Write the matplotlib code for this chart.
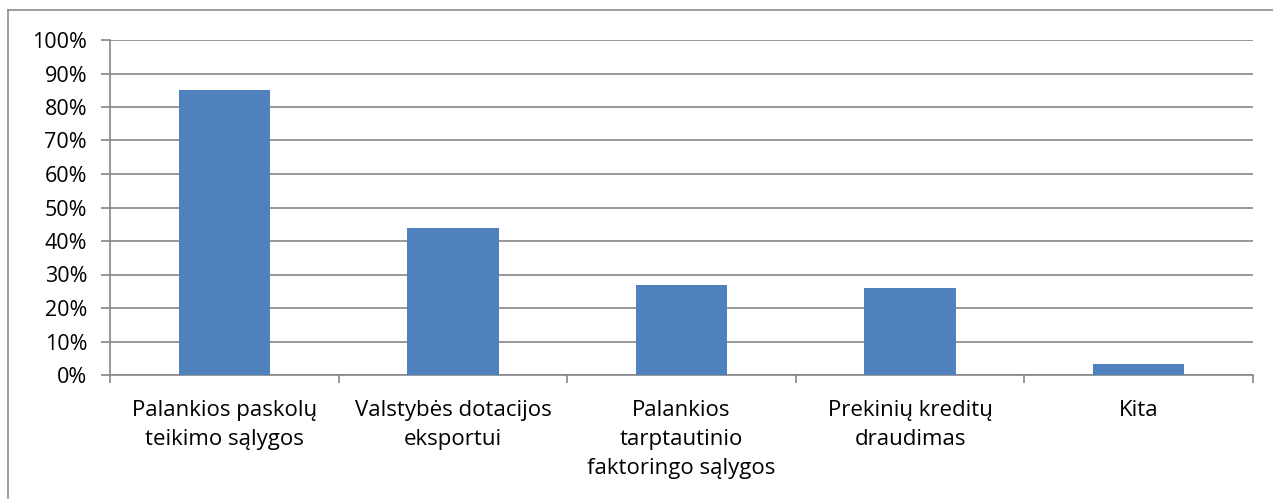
import numpy as np
import matplotlib.pyplot as plt
from matplotlib.lines import Line2D
from matplotlib.ticker import PercentFormatter

# categories and values (share of respondents)
categories = ['Palankios paskolų\nteikimo sąlygos',
              'Valstybės dotacijos\neksportui',
              'Palankios\ntarptautinio\nfaktoringo sąlygos',
              'Prekinių kreditų\ndraudimas',
              'Kita']
values = [0.85, 0.44, 0.27, 0.26, 0.033]
y_ticks = np.arange(0, 1.01, 0.1)

plt.rcParams['font.family'] = ['Open Sans', 'DejaVu Sans']

GRID = '#868686'
BAR = '#4F81BD'

fig = plt.figure(figsize=(12.73, 4.99), dpi=100)
ax = fig.add_axes([110/1273, 1-375/499, (1253-110)/1273, (375-40)/499])

x = np.arange(len(categories))
ax.bar(x, values, width=0.4, color=BAR, zorder=3)

ax.set_xlim(-0.5, len(categories)-0.5)
ax.set_ylim(0, 1)
ax.set_yticks(y_ticks)
ax.yaxis.set_major_formatter(PercentFormatter(1.0, decimals=0))
ax.yaxis.grid(True, color=GRID, lw=1.2, zorder=0)

# category labels centred, ticks on the category boundaries
ax.set_xticks(x)
ax.set_xticklabels(categories, linespacing=1.5, va='top')
ax.set_xticks(np.arange(-0.5, len(categories)), minor=True)
ax.tick_params(axis='x', which='major', length=0, pad=18, labelsize=16)
ax.tick_params(axis='x', which='minor', length=6, width=1.2, color=GRID, direction='out')
ax.tick_params(axis='y', length=6.5, width=1.2, color=GRID, labelsize=15.5, pad=10)

for s in ['top', 'right']:
    ax.spines[s].set_visible(False)
for s in ['left', 'bottom']:
    ax.spines[s].set_color(GRID)
    ax.spines[s].set_linewidth(1.2)

# outer chart border (left and top edges visible in the crop)
fig.add_artist(Line2D([8/1273, 8/1273], [0, 1-10/499], color='#8c8c8c', lw=1.2))
fig.add_artist(Line2D([8/1273, 1], [1-10/499, 1-10/499], color='#8c8c8c', lw=1.2))

fig.savefig('out.png', dpi=100)
